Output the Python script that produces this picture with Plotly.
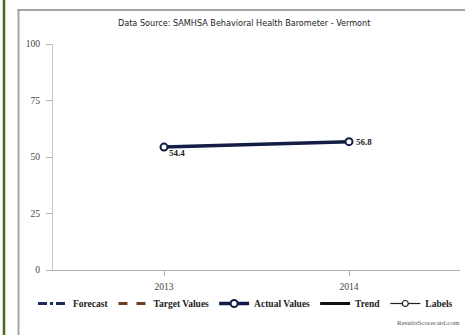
import plotly.graph_objects as go

# Chart data
years = ["2013", "2014"]
actual_values = [54.4, 56.8]
value_labels = ["54.4", "56.8"]
label_shifts = [(13, -6), (15, 0)]
y_ticks = [0, 25, 50, 75, 100]

W, H = 465, 335
L, R, T, B = 53, 5, 44, 65
PW, PH = W - L - R, H - T - B


def px_x(p):
    return (p - L) / PW


def px_y(q):
    return (H - B - q) / PH


serif = "Liberation Serif, Times New Roman, serif"
navy = "#131d45"

fig = go.Figure()

# Legend-only series
fig.add_trace(go.Scatter(x=[None], y=[None], mode="lines", name="Forecast",
                         line=dict(color="#1c2b5c", width=3, dash="dashdot")))
fig.add_trace(go.Scatter(x=[None], y=[None], mode="lines", name="Target Values",
                         line=dict(color="#6b3f24", width=3, dash="dash")))

# Actual values
fig.add_trace(go.Scatter(
    x=years, y=actual_values, mode="lines+markers", name="Actual Values",
    line=dict(color=navy, width=3.5),
    marker=dict(symbol="circle", size=7, color="white",
                line=dict(color=navy, width=2)),
))

fig.add_trace(go.Scatter(x=[None], y=[None], mode="lines", name="Trend",
                         line=dict(color="#111111", width=3)))
fig.add_trace(go.Scatter(x=[None], y=[None], mode="lines+markers", name="Labels",
                         line=dict(color="#222222", width=1.2),
                         marker=dict(symbol="circle", size=6, color="white",
                                     line=dict(color="#222222", width=1.2))))

# Value labels next to each point (category index on the x axis)
value_annotations = [
    dict(x=i, y=yv, xref="x", yref="y", text=t, showarrow=False,
         xshift=sx, yshift=sy, xanchor="center", yanchor="middle",
         font=dict(family=serif, size=9, color="#222222", weight="bold"))
    for i, (yv, t, (sx, sy)) in enumerate(zip(actual_values, value_labels, label_shifts))
]

fig.update_layout(
    width=W, height=H,
    margin=dict(l=L, r=R, t=T, b=B),
    paper_bgcolor="white", plot_bgcolor="white",
    showlegend=True,
    legend=dict(orientation="h", x=px_x(33), y=px_y(289), xanchor="left", yanchor="top",
                font=dict(family=serif, size=9.5, color="#222222", weight="bold"),
                itemwidth=30, tracegroupgap=0, bgcolor="rgba(0,0,0,0)"),
    xaxis=dict(type="category", range=[-0.6, 1.6], showgrid=False, zeroline=False,
               showline=True, linecolor="#b0b0b0", linewidth=1,
               ticks="outside", ticklen=5, tickcolor="#b0b0b0",
               ticklabelstandoff=3,
               tickfont=dict(family=serif, size=9.5, color="#444444")),
    yaxis=dict(range=[0, 100], tickvals=y_ticks, showgrid=False, zeroline=False,
               showline=True, linecolor="#c8c8c8", linewidth=1,
               ticks="outside", ticklen=6, tickcolor="#b0b0b0",
               ticklabelstandoff=4,
               tickfont=dict(family=serif, size=9.5, color="#444444")),
    font=dict(family=serif),
    shapes=[
        dict(type="line", xref="paper", yref="paper", x0=px_x(4), x1=px_x(4),
             y0=px_y(0), y1=px_y(H), line=dict(color="#4d6a24", width=2.5)),
        dict(type="line", xref="paper", yref="paper", x0=px_x(18.5), x1=px_x(18.5),
             y0=px_y(9.5), y1=px_y(H), line=dict(color="#a5a5a5", width=2)),
        dict(type="line", xref="paper", yref="paper", x0=px_x(17.5), x1=px_x(W),
             y0=px_y(10), y1=px_y(10), line=dict(color="#a5a5a5", width=2)),
    ],
    annotations=value_annotations + [
        dict(text="Data Source: SAMHSA Behavioral Health Barometer - Vermont",
             xref="paper", yref="paper", x=px_x(244), y=px_y(23),
             xanchor="center", yanchor="middle", showarrow=False,
             font=dict(family="DejaVu Sans Condensed, DejaVu Sans, sans-serif",
                       size=9, color="#222222")),
        dict(text="ResultsScorecard.com", xref="paper", yref="paper",
             x=px_x(462), y=px_y(323), xanchor="right", yanchor="middle",
             showarrow=False, font=dict(family=serif, size=7, color="#555555")),
    ],
)

fig.write_html("out.html")
